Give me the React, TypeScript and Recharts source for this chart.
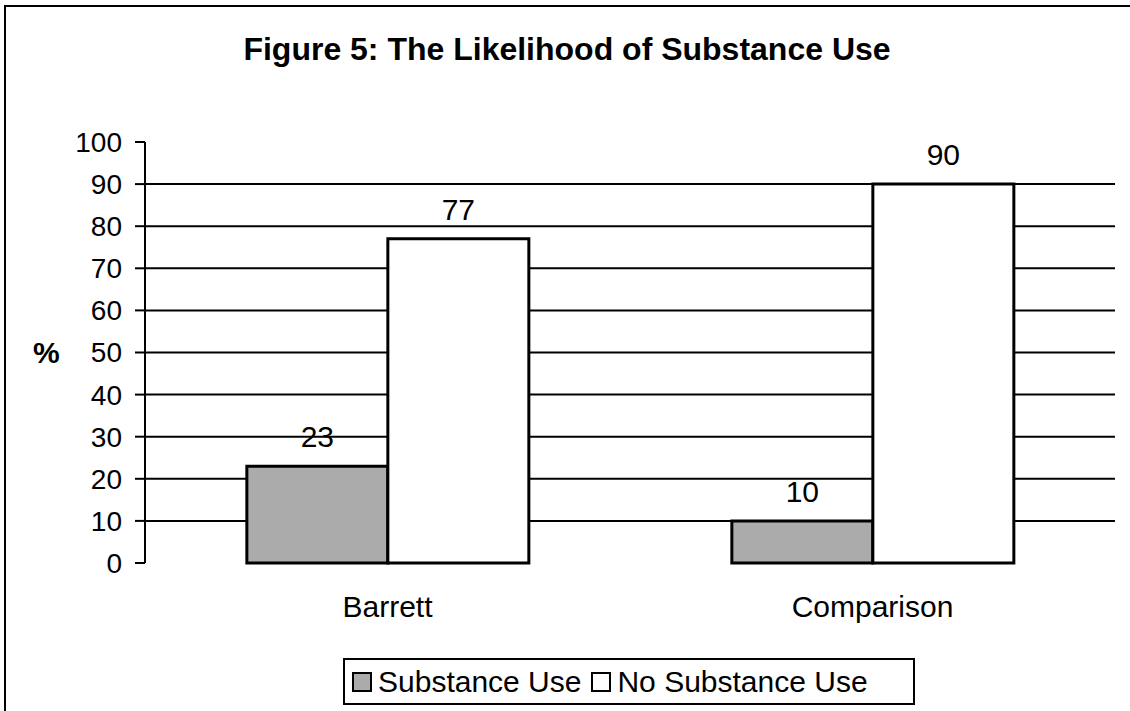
import React from "react";
import {
  BarChart,
  Bar,
  XAxis,
  YAxis,
  CartesianGrid,
  Legend,
  LabelList,
} from "recharts";

/* ── data ── */

const categories = ["Barrett", "Comparison"];
const substanceUse = [23, 10];
const noSubstanceUse = [77, 90];
const yTicks = [0, 10, 20, 30, 40, 50, 60, 70, 80, 90, 100];
const gridValues = [10, 20, 30, 40, 50, 60, 70, 80, 90];
const edgeTicks = [0, 1, 2];

const seriesNames = ["Substance Use", "No Substance Use"];
const seriesFills = ["#ababab", "#ffffff"];

const data = categories.map((name, i) => ({
  name,
  use: substanceUse[i],
  noUse: noSubstanceUse[i],
}));

const FONT = "'Liberation Sans', Arial, sans-serif";

function LegendBox() {
  return (
    <div
      style={{
        boxSizing: "border-box",
        width: 572,
        height: 47,
        border: "2px solid #000",
        display: "flex",
        alignItems: "center",
        paddingLeft: 7,
        fontFamily: FONT,
        fontSize: 30,
        color: "#000",
        background: "#fff",
      }}
    >
      {seriesNames.map((s, i) => (
        <span
          key={s}
          style={{ display: "flex", alignItems: "center", marginRight: 10 }}
        >
          <span
            style={{
              display: "inline-block",
              width: 16,
              height: 16,
              border: "2px solid #000",
              background: seriesFills[i],
              marginRight: 6,
            }}
          />
          {s}
        </span>
      ))}
    </div>
  );
}

export default function App() {
  return (
    <div
      style={{
        position: "absolute",
        left: 0,
        top: 0,
        width: 1130,
        height: 711,
        background: "#fff",
        fontFamily: FONT,
        overflow: "hidden",
      }}
    >
      {/* frame (only top and left edges survive in the scan) */}
      <div
        style={{
          position: "absolute",
          left: 4,
          top: 5,
          width: 1130,
          height: 711,
          borderLeft: "2px solid #000",
          borderTop: "2px solid #000",
        }}
      />
      <div
        style={{
          position: "absolute",
          left: 0,
          top: 33,
          width: 1134,
          textAlign: "center",
          fontSize: 32,
          lineHeight: "32px",
          fontWeight: "bold",
          color: "#000",
        }}
      >
        Figure 5: The Likelihood of Substance Use
      </div>

      <BarChart
        width={1130}
        height={711}
        data={data}
        margin={{ top: 142, right: 15, bottom: 98, left: 0 }}
        barCategoryGap="21%"
        barGap={0}
        style={{ position: "absolute", left: 0, top: 0 }}
      >
        <CartesianGrid
          vertical={false}
          horizontalValues={gridValues}
          stroke="#000"
          strokeWidth={2}
        />
        <XAxis
          xAxisId="edges"
          type="number"
          domain={[0, 2]}
          ticks={edgeTicks}
          tick={false}
          height={0}
          tickSize={10}
          axisLine={{ stroke: "#000", strokeWidth: 2 }}
          tickLine={{ stroke: "#000", strokeWidth: 2 }}
        />
        <XAxis
          xAxisId="cat"
          dataKey="name"
          height={50}
          axisLine={false}
          tickLine={false}
          tickSize={0}
          tickMargin={33}
          tick={{ fill: "#000", fontSize: 30, fontFamily: FONT }}
        />
        <YAxis
          width={145}
          domain={[0, 100]}
          ticks={yTicks}
          interval={0}
          tickSize={10}
          tickMargin={13}
          axisLine={{ stroke: "#000", strokeWidth: 2 }}
          tickLine={{ stroke: "#000", strokeWidth: 2 }}
          tick={{ fill: "#000", fontSize: 28, fontFamily: FONT }}
          label={{
            value: "%",
            position: "insideLeft",
            offset: 33,
            style: { fontSize: 30, fontWeight: "bold", fill: "#000", fontFamily: FONT },
          }}
        />
        <Legend
          verticalAlign="middle"
          align="center"
          layout="horizontal"
          wrapperStyle={{ top: 658, left: 343, width: 572 }}
          content={() => <LegendBox />}
        />
        <Bar
          xAxisId="cat"
          dataKey="use"
          name={seriesNames[0]}
          fill={seriesFills[0]}
          stroke="#000"
          strokeWidth={3}
          isAnimationActive={false}
        >
          <LabelList
            dataKey="use"
            position="top"
            offset={19}
            style={{ fill: "#000", fontSize: 30, fontFamily: FONT }}
          />
        </Bar>
        <Bar
          xAxisId="cat"
          dataKey="noUse"
          name={seriesNames[1]}
          fill={seriesFills[1]}
          stroke="#000"
          strokeWidth={3}
          isAnimationActive={false}
        >
          <LabelList
            dataKey="noUse"
            position="top"
            offset={19}
            style={{ fill: "#000", fontSize: 30, fontFamily: FONT }}
          />
        </Bar>
      </BarChart>
    </div>
  );
}
